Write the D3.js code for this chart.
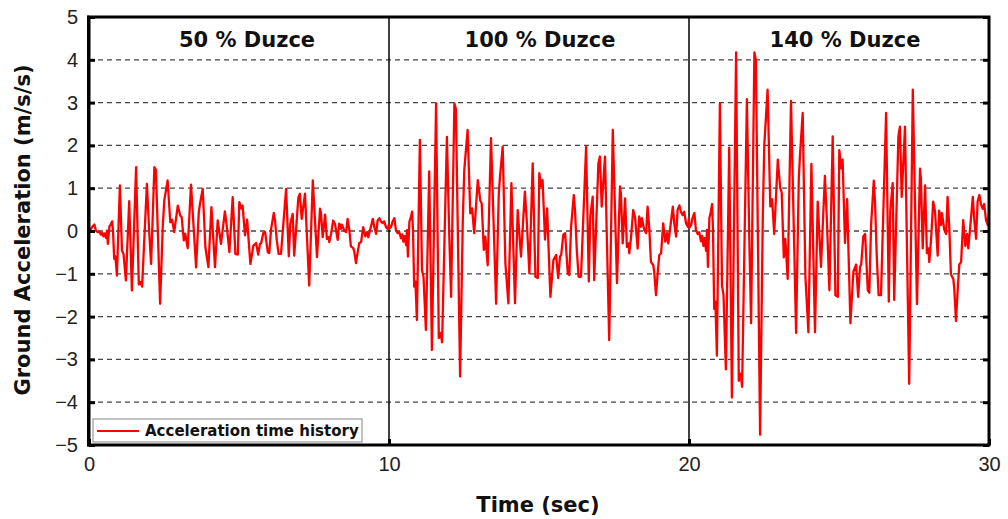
<!DOCTYPE html>
<html>
<head>
<meta charset="utf-8">
<script src="https://cdn.jsdelivr.net/npm/d3@7"></script>
<style>
  body { margin: 0; background: #fff; }
  .tick text { font-family: "Liberation Sans", Arial, sans-serif; font-size: 20px; fill: #222; }
  .bold { font-family: "DejaVu Sans", Verdana, sans-serif; font-weight: bold; fill: #111; }
</style>
</head>
<body>
<div id="chart"></div>
<script>
// tick values
var timeTicks = [0, 10, 20, 30];
var accelTicks = [-5, -4, -3, -2, -1, 0, 1, 2, 3, 4, 5];

// the three runs of the same Duzce record, scaled
var runLabels = ["50 % Duzce", "100 % Duzce", "140 % Duzce"];
var runScales = [0.5, 1.0, 1.4];
var runStarts = [0, 10, 20];

// base (100 %) record: seconds from run start, m/s/s
var baseTime = [0.00, 0.07, 0.12, 0.18, 0.23, 0.29, 0.34, 0.40, 0.44, 0.48, 0.52, 0.57, 0.60, 0.63, 0.68, 0.72, 0.77, 0.80,
  0.84, 0.88, 0.93, 1.03, 1.10, 1.15, 1.23, 1.34, 1.43, 1.57, 1.66, 1.72, 1.77, 1.93, 2.01, 2.07, 2.18, 2.23,
  2.37, 2.46, 2.51, 2.62, 2.71, 2.77, 2.84, 2.96, 3.04, 3.09, 3.16, 3.21, 3.29, 3.40, 3.57, 3.66, 3.70, 3.79,
  3.88, 3.98, 4.08, 4.20, 4.29, 4.40, 4.53, 4.59, 4.68, 4.79, 4.88, 4.96, 5.01, 5.08, 5.12, 5.20, 5.27, 5.38,
  5.48, 5.57, 5.64, 5.70, 5.74, 5.81, 5.87, 5.96, 6.01, 6.07, 6.16, 6.20, 6.26, 6.32, 6.40, 6.57, 6.66, 6.71,
  6.79, 6.84, 6.98, 7.03, 7.09, 7.20, 7.34, 7.46, 7.60, 7.70, 7.73, 7.79, 7.87, 7.93, 7.98, 8.01, 8.07, 8.14,
  8.20, 8.29, 8.34, 8.40, 8.43, 8.51, 8.57, 8.62, 8.68, 8.73, 8.81, 8.84, 8.90, 8.96, 9.01, 9.07, 9.14, 9.21,
  9.27, 9.31, 9.38, 9.46, 9.51, 9.57, 9.62, 9.68, 9.73, 9.79, 9.84, 9.90, 9.96, 10.00];
var baseAccel = [0.05, 0.10, 0.22, 0.30, 0.02, -0.05, -0.02, -0.17, -0.08, -0.25, -0.12, -0.33, 0.02, -0.60, 0.22, 0.30, 0.45, 0.02,
  -1.30, -1.18, -2.08, 2.13, -0.91, -1.07, -2.31, 1.39, -2.78, 2.98, -2.50, -2.38, -2.60, 2.20, -0.13, -1.54, 2.98, 2.85,
  -3.40, 0.26, 1.43, 2.36, 0.41, 0.53, -0.05, 1.19, 0.72, 0.64, -0.44, -0.13, -0.80, 2.17, -1.70, 0.88, 1.27, 1.97,
  -0.76, -1.69, 1.12, -1.69, 0.49, -0.60, 0.92, 0.26, -0.99, 1.58, -1.07, -1.10, 1.35, 1.04, 1.19, -0.20, 0.53, -1.54,
  -0.68, -0.56, -1.10, -0.60, -0.56, -0.09, -0.05, -0.99, -1.03, 0.10, 0.84, 0.49, -0.44, -1.07, -1.07, 1.97, -1.18, 0.34,
  0.80, -1.15, 1.58, 1.74, 0.57, 1.74, -2.55, 2.36, -1.22, 1.04, 0.88, -0.29, 0.76, -0.37, -0.29, -0.52, -0.13, 0.49,
  0.33, -0.41, 0.34, 0.10, 0.30, 0.02, -0.05, 0.57, 0.02, -0.72, -0.80, -0.95, -1.50, -0.95, -0.56, -0.52, 0.18, -0.25,
  -0.05, -0.29, 0.10, 0.57, 0.18, -0.13, 0.49, 0.60, 0.45, 0.37, 0.45, 0.18, 0.10, 0.30];

var svgWidth = 1008;
var svgHeight = 519;
var margin = { top: 17, right: 19, bottom: 74, left: 89 };
var width = svgWidth - margin.left - margin.right;
var height = svgHeight - margin.top - margin.bottom;

var svg = d3.select("#chart")
  .append("svg")
  .attr("width", svgWidth)
  .attr("height", svgHeight);

var chartGroup = svg.append("g")
  .attr("transform", `translate(${margin.left}, ${margin.top})`);

var xScale = d3.scaleLinear().domain([0, 30]).range([0, width]);
var yScale = d3.scaleLinear().domain([-5, 5]).range([height, 0]);

// build the full trace from the three scaled runs
var trace = [];
runStarts.forEach(function(start, i) {
  baseTime.forEach(function(t, j) {
    trace.push({ t: start + t, a: runScales[i] * baseAccel[j] });
  });
});

// dashed grid
chartGroup.append("g")
  .selectAll("line")
  .data(accelTicks.filter(d => d > -5 && d < 5))
  .enter()
  .append("line")
  .attr("x1", 0)
  .attr("x2", width)
  .attr("y1", d => yScale(d))
  .attr("y2", d => yScale(d))
  .attr("stroke", "#444")
  .attr("stroke-width", 1.3)
  .attr("stroke-dasharray", "5,4");

// run separators
chartGroup.append("g")
  .selectAll("line")
  .data(runStarts.slice(1))
  .enter()
  .append("line")
  .attr("x1", d => xScale(d))
  .attr("x2", d => xScale(d))
  .attr("y1", 0)
  .attr("y2", height)
  .attr("stroke", "#000")
  .attr("stroke-width", 1.5);

// the signal
var line = d3.line()
  .x(d => xScale(d.t))
  .y(d => yScale(d.a));

chartGroup.append("path")
  .datum(trace)
  .attr("fill", "none")
  .attr("stroke", "#ff0000")
  .attr("stroke-width", 2.3)
  .attr("stroke-linejoin", "round")
  .attr("d", line);

// axes with inward ticks
var leftAxis = d3.axisLeft(yScale).tickValues(accelTicks).tickSize(-6).tickPadding(11);
var rightAxis = d3.axisRight(yScale).tickValues(accelTicks).tickSize(-6).tickFormat("");
var bottomAxis = d3.axisBottom(xScale).tickValues(timeTicks).tickSize(-6).tickPadding(12);

chartGroup.append("g").call(leftAxis);
chartGroup.append("g").attr("transform", `translate(${width}, 0)`).call(rightAxis);
chartGroup.append("g").attr("transform", `translate(0, ${height})`).call(bottomAxis);

chartGroup.selectAll(".domain").remove();
chartGroup.selectAll(".tick line").attr("stroke", "#000").attr("stroke-width", 3);

// frame, left side a little heavier
chartGroup.append("rect")
  .attr("width", width)
  .attr("height", height)
  .attr("fill", "none")
  .attr("stroke", "#000")
  .attr("stroke-width", 3);
chartGroup.append("line")
  .attr("x1", -1).attr("x2", -1)
  .attr("y1", -1.5).attr("y2", height + 1.5)
  .attr("stroke", "#000")
  .attr("stroke-width", 2);

// run titles
var titleShift = [8, 1, 6];
chartGroup.selectAll(".runTitle")
  .data(runLabels)
  .enter()
  .append("text")
  .attr("class", "bold runTitle")
  .attr("x", (d, i) => xScale(runStarts[i] + 5) + titleShift[i])
  .attr("y", 30)
  .attr("text-anchor", "middle")
  .style("font-size", "21px")
  .text(d => d);

// legend
var legend = chartGroup.append("g").attr("transform", "translate(4, 402)");
legend.append("rect")
  .attr("width", 269)
  .attr("height", 23)
  .attr("fill", "#fff")
  .attr("stroke", "#999")
  .attr("stroke-width", 1.2);
legend.append("line")
  .attr("x1", 4).attr("x2", 46)
  .attr("y1", 12).attr("y2", 12)
  .attr("stroke", "#ff0000")
  .attr("stroke-width", 2);
legend.append("text")
  .attr("class", "bold")
  .attr("x", 52)
  .attr("y", 17)
  .style("font-size", "15px")
  .text("Acceleration time history");

// axis titles
svg.append("text")
  .attr("class", "bold")
  .attr("transform", "rotate(-90)")
  .attr("x", -230)
  .attr("y", 30)
  .attr("text-anchor", "middle")
  .style("font-size", "21px")
  .text("Ground Acceleration (m/s/s)");

svg.append("text")
  .attr("class", "bold")
  .attr("x", 538)
  .attr("y", 512)
  .attr("text-anchor", "middle")
  .style("font-size", "21px")
  .text("Time (sec)");
</script>
</body>
</html>
